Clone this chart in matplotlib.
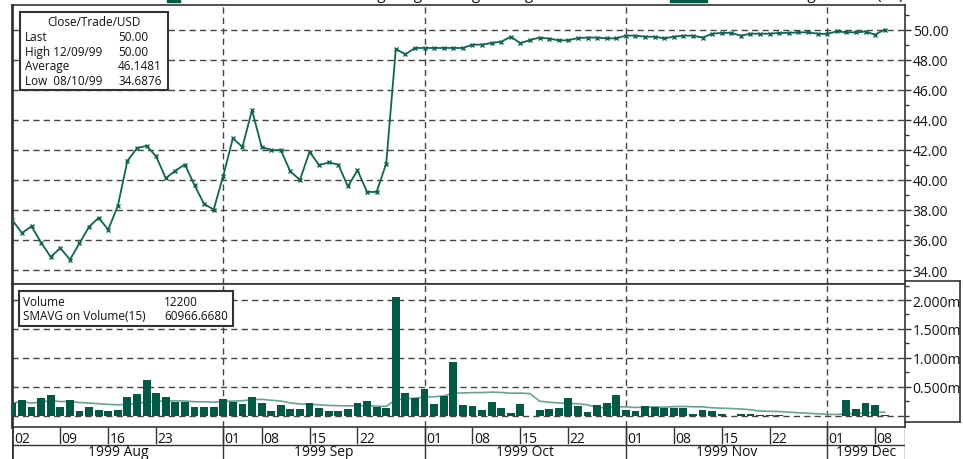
import numpy as np
import pandas as pd
import matplotlib
matplotlib.use("Agg")
import matplotlib.pyplot as plt
from matplotlib.lines import Line2D
from matplotlib.patches import Rectangle
from matplotlib.ticker import FuncFormatter, MultipleLocator

plt.rcParams['font.family'] = ['Open Sans', 'DejaVu Sans']

# trading days 02 Aug - 09 Dec 1999 (Labor Day and Thanksgiving closed)
holidays = ["1999-09-06", "1999-11-25"]
dates = pd.bdate_range("1999-08-02", "1999-12-09")
dates = dates[~dates.isin(pd.to_datetime(holidays))]

close = [37.31, 36.47, 36.91, 35.82, 34.87, 35.47, 34.69, 35.78, 36.89, 37.47,
         36.69, 38.27, 41.27, 42.11, 42.27, 41.56, 40.11, 40.62, 41.02, 39.64,
         38.40, 38.02, 40.27, 42.76, 42.20, 44.64, 42.20, 41.98, 41.98, 40.56,
         40.00, 41.87, 40.98, 41.16, 41.02, 39.56, 40.64, 39.20, 39.20, 41.09,
         48.71, 48.36, 48.78, 48.78, 48.78, 48.78, 48.78, 48.78, 49.00, 49.00,
         49.11, 49.20, 49.53, 49.09, 49.31, 49.47, 49.40, 49.29, 49.29, 49.44,
         49.47, 49.47, 49.42, 49.42, 49.60, 49.60, 49.53, 49.53, 49.42, 49.53,
         49.60, 49.60, 49.47, 49.73, 49.78, 49.78, 49.60, 49.73, 49.73, 49.73,
         49.78, 49.78, 49.82, 49.82, 49.73, 49.71, 49.89, 49.82, 49.82, 49.87,
         49.67, 50.00]

# volume in millions
volume_m = [0.219, 0.271, 0.156, 0.306, 0.358, 0.156, 0.271, 0.081, 0.156, 0.098,
            0.081, 0.104, 0.323, 0.375, 0.617, 0.392, 0.323, 0.242, 0.242, 0.156,
            0.156, 0.156, 0.289, 0.237, 0.202, 0.323, 0.219, 0.081, 0.185, 0.115,
            0.115, 0.219, 0.133, 0.081, 0.081, 0.115, 0.219, 0.254, 0.150, 0.133,
            2.054, 0.392, 0.306, 0.462, 0.202, 0.340, 0.929, 0.185, 0.167, 0.095,
            0.233, 0.128, 0.040, 0.198, 0.000, 0.093, 0.110, 0.128, 0.303, 0.163,
            0.058, 0.180, 0.215, 0.356, 0.091, 0.074, 0.160, 0.150, 0.140, 0.140,
            0.135, 0.035, 0.091, 0.074, 0.035, 0.000, 0.035, 0.035, 0.018, 0.018,
            0.018, 0.000, 0.000, 0.000, 0.000, 0.000, 0.000, 0.267, 0.124, 0.215,
            0.178, 0.0122]

price_box = [("Last", "50.00"), ("High 12/09/99", "50.00"),
             ("Average", "46.1481"), ("Low  08/10/99", "34.6876")]
vol_box = [("Volume", "12200"), ("SMAVG on Volume(15)", "60966.6680")]

price_ticks = [34, 36, 38, 40, 42, 44, 46, 48, 50]
vol_ticks = [0.5e6, 1.0e6, 1.5e6, 2.0e6]

GREEN = "#005a46"
LINE = "#0e6652"
SMA_C = "#6aa292"
DARK = "#333333"
GRID = dict(color="#444444", lw=1.0, ls=(0, (4.5, 3)), zorder=1)

volume = np.array(volume_m) * 1e6
sma = pd.Series(volume).rolling(15, min_periods=1).mean()
x = np.arange(len(dates))

# month starts and weekly ticks (1st, 8th, 15th, 22nd)
month_idx = [i for i in range(1, len(dates)) if dates[i].month != dates[i - 1].month]
tick_idx = []
for m in sorted(set(dates.to_period("M"))):
    for d in (1, 8, 15, 22):
        day = pd.Timestamp(m.year, m.month, d)
        hits = np.where(dates >= day)[0]
        if len(hits) and dates[hits[0]].month == m.month and hits[0] not in tick_idx:
            tick_idx.append(hits[0])

W, H = 963, 460
fig = plt.figure(figsize=(W / 100, H / 100), dpi=100)
L, R = 12, 905
ax_p = fig.add_axes([L / W, 1 - 285 / H, (R - L) / W, (285 - 5.7) / H])
ax_v = fig.add_axes([L / W, 1 - 427.7 / H, (R - L) / W, (427.7 - 285) / H])
ax_d = fig.add_axes([L / W, -4 / H, (R - L) / W, (431.7 - 427.7 + 32.3) / H])
xlim = (-0.04, 93.12)

# price panel
ax_p.plot(x, close, color=LINE, lw=1.3, marker="x", ms=3.5, mew=1.0, zorder=3)
ax_p.set_ylim(33.07, 51.66)
ax_p.set_yticks(price_ticks)
ax_p.yaxis.set_minor_locator(MultipleLocator(1))
ax_p.yaxis.set_major_formatter(FuncFormatter(lambda v, p: f"{v:.2f}"))
for t in price_ticks:
    ax_p.axhline(t, **GRID)

# volume panel
ax_v.plot(x, sma, color=SMA_C, lw=1.2, zorder=2)
ax_v.bar(x, volume, width=0.82, color=GREEN, zorder=3)
ax_v.set_ylim(-0.19e6, 2.277e6)
ax_v.set_yticks(vol_ticks)
ax_v.yaxis.set_minor_locator(MultipleLocator(0.25e6))
ax_v.yaxis.set_major_formatter(FuncFormatter(lambda v, p: f"{v / 1e6:.3f}m"))
for t in [0] + vol_ticks:
    ax_v.axhline(t, **GRID)

for ax in (ax_p, ax_v):
    ax.set_xlim(*xlim)
    ax.set_xticks([])
    for mi in month_idx:
        ax.axvline(mi, **GRID)
    ax.yaxis.tick_right()
    ax.tick_params(axis="y", which="major", length=4, width=1, pad=1.5,
                   labelsize=10, colors=DARK, labelcolor="#111111")
    ax.tick_params(axis="y", which="minor", length=3, width=1, colors=DARK)
    for s in ax.spines.values():
        s.set_color(DARK)
        s.set_linewidth(1.2)
    ax.spines["left"].set_linewidth(2.0)

# date axis rows
ax_d.set_xlim(*xlim)
ax_d.set_ylim(36.3, 0)
ax_d.axis("off")
lk = dict(color=DARK, lw=1.0)
ax_d.plot(xlim, [18, 18], **lk)
ax_d.plot([xlim[0]] * 2, [0, 36.3], color=DARK, lw=2.0)
ax_d.plot([xlim[1]] * 2, [0, 36.3], **lk)
for ti in tick_idx:
    ax_d.plot([ti, ti], [1, 16], **lk)
    ax_d.text(ti + 0.15, 15.5, dates[ti].strftime("%d"), fontsize=10,
              color="#111111", ha="left", va="baseline")
bounds = [0] + month_idx + [xlim[1]]
for mi in month_idx:
    ax_d.plot([mi, mi], [0, 36.3], **lk)
for a, b in zip(bounds[:-1], bounds[1:]):
    ax_d.text((a + b) / 2, 28.6, dates[int(a)].strftime("%Y %b"), fontsize=10,
              color="#111111", ha="center", va="baseline")


def fp(px, py):
    return (px / W, 1 - py / H)


def box(x0, y0, x1, y1):
    fig.add_artist(Rectangle(fp(x0, y1), (x1 - x0) / W, (y1 - y0) / H,
                             transform=fig.transFigure, facecolor="white",
                             edgecolor=DARK, lw=1.5, zorder=5))


def ftext(px, py, s, size=8.5, **kw):
    fig.text(*fp(px, py), s, fontsize=size, color="#111111", va="baseline",
             zorder=6, **kw)


# price info box
box(20, 13, 168, 91)
ftext(94, 26.5, "Close/Trade/USD", ha="center")
for k, (lab, val) in enumerate(price_box):
    ftext(25, 41 + k * 14.6, lab)
    ftext(118, 41 + k * 14.6, val)

# volume info box
box(19, 291.7, 233, 326.7)
for k, (lab, val) in enumerate(vol_box):
    ftext(23, 305.5 + k * 14.6, lab)
    ftext(164, 305.5 + k * 14.6, val)

# right label frame of the volume panel
for seg in ([(905, 281.7), (960, 281.7)], [(960, 281.7), (960, 423.3)],
            [(905, 423.3), (960, 423.3)]):
    (x0, y0), (x1, y1) = seg
    fig.add_artist(Line2D([x0 / W, x1 / W], [1 - y0 / H, 1 - y1 / H],
                          transform=fig.transFigure, color=DARK, lw=1.2))

# legend row cut off at the top edge
for (x0, x1) in ((167, 180), (670, 707)):
    fig.add_artist(Rectangle(fp(x0, 3), (x1 - x0) / W, 12 / H,
                             transform=fig.transFigure, color=GREEN, zorder=5))
ftext(186, -1, "Close Trade Line Chart Weighting Trading Average", size=11, ha="left")
ftext(712, -1, "Volume Histogram Bar (15)", size=11, ha="left")

fig.savefig("out.png", dpi=100)
